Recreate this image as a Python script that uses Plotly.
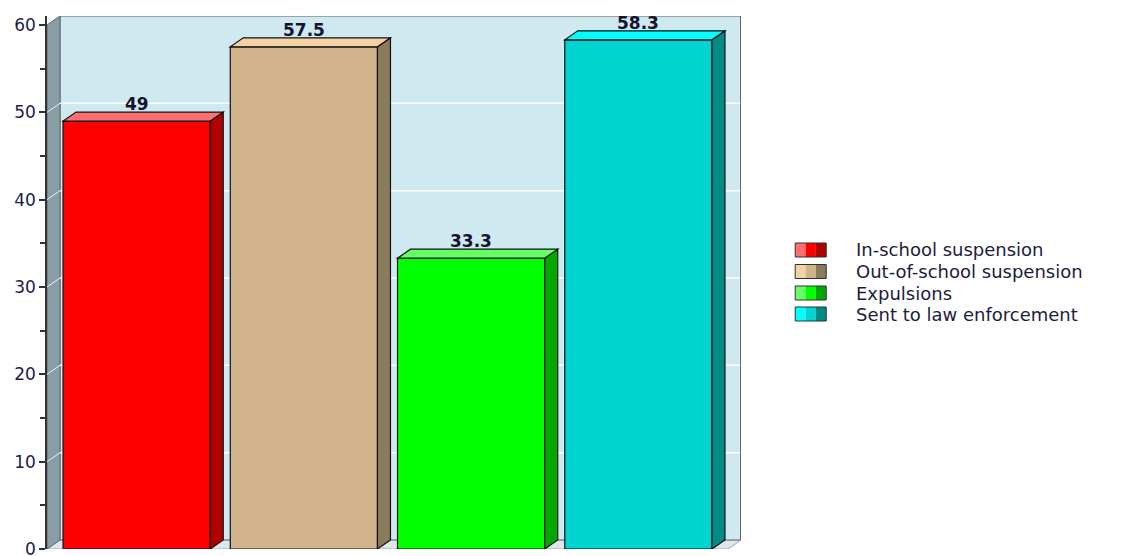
import plotly.graph_objects as go

categories = ["In-school suspension", "Out-of-school suspension", "Expulsions", "Sent to law enforcement"]
values = [49, 57.5, 33.3, 58.3]
value_labels = ["49", "57.5", "33.3", "58.3"]
y_ticks = [0, 10, 20, 30, 40, 50, 60]

front_colors = ["#ff0000", "#d2b48c", "#00ff00", "#00d4d0"]
side_colors = ["#b00000", "#8b7a5c", "#00a800", "#008b84"]
top_colors = ["#ff6f6f", "#f3d2a6", "#66ff66", "#00ffff"]

W, H = 1133, 556
# geometry (pixels)
px_per_x = 167.2
px_per_y = 8.733
depth_px_x, depth_px_y = 13, 9
pad_px = 6
dx = depth_px_x / px_per_x
dy = depth_px_y / px_per_y
bar_w = 0.88
xmin = -0.5 - pad_px / px_per_x
xmax_front = len(values) - 0.5 + pad_px / px_per_x
xmax = xmax_front + dx
ymax_front = 60
ymax = ymax_front + dy
left_px = 47
plot_w = (xmax - xmin) * px_per_x
margin_r = W - left_px - plot_w
margin_t = 16
margin_b = 7

fig = go.Figure()
xs = list(range(len(values)))
fig.add_trace(go.Bar(
    x=xs, y=values, width=bar_w,
    marker=dict(color=front_colors, line=dict(color="#101010", width=1.2)),
    showlegend=False, hoverinfo="skip",
))

shapes = []
# floor
shapes.append(dict(type="path", layer="below",
                   path=f"M{xmin},0 L{xmax_front},0 L{xmax},{dy} L{xmin+dx},{dy} Z",
                   fillcolor="#dde8ec", line=dict(color="#9aa7ad", width=1)))
# back wall
shapes.append(dict(type="rect", layer="below", x0=xmin + dx, x1=xmax, y0=dy, y1=ymax,
                   fillcolor="#cfe9f1", line=dict(color="#8c8c8c", width=1.5)))
# left wall
shapes.append(dict(type="path", layer="below",
                   path=f"M{xmin},0 L{xmin},{ymax_front} L{xmin+dx},{ymax} L{xmin+dx},{dy} Z",
                   fillcolor="#899da5", line=dict(color="#5c6a70", width=1)))
# grid lines
for t in y_ticks[1:-1]:
    shapes.append(dict(type="line", layer="below", x0=xmin + dx, x1=xmax, y0=t + dy, y1=t + dy,
                       line=dict(color="#ffffff", width=1.5)))
    shapes.append(dict(type="line", layer="below", x0=xmin, x1=xmin + dx, y0=t, y1=t + dy,
                       line=dict(color="#e8f2f5", width=1)))
# right wall edge
shapes.append(dict(type="line", layer="below", x0=xmax, x1=xmax, y0=dy, y1=ymax,
                   line=dict(color="#555555", width=1.5)))

# 3D faces of bars
for i, v in enumerate(values):
    xl = i - bar_w / 2
    xr = i + bar_w / 2
    shapes.append(dict(type="path", layer="above",
                       path=f"M{xr},0 L{xr},{v} L{xr+dx},{v+dy} L{xr+dx},{dy} Z",
                       fillcolor=side_colors[i], line=dict(color="#101010", width=1.2)))
    shapes.append(dict(type="path", layer="above",
                       path=f"M{xl},{v} L{xr},{v} L{xr+dx},{v+dy} L{xl+dx},{v+dy} Z",
                       fillcolor=top_colors[i], line=dict(color="#101010", width=1.2)))

annotations = []
for i, v in enumerate(values):
    annotations.append(dict(x=i, y=v + dy, xref="x", yref="y", text=value_labels[i],
                            showarrow=False, yanchor="bottom", xanchor="center", yshift=-4,
                            font=dict(family="DejaVu Sans", size=17, color="#141430", weight="bold")))

# legend (manual swatches)
def px_to_paper_x(px):
    return (px - left_px) / plot_w

def py_to_paper_y(py):
    return (H - margin_b - py) / (H - margin_t - margin_b)

leg_x0, leg_w, sw_h = 795, 31, 14
leg_y_centers = [250, 271.5, 293, 314]
for i, name in enumerate(categories):
    cy = leg_y_centers[i]
    stripe_cols = [top_colors[i], front_colors[i], side_colors[i]]
    for k in range(3):
        shapes.append(dict(type="rect", xref="paper", yref="paper",
                           x0=px_to_paper_x(leg_x0 + k * leg_w / 3), x1=px_to_paper_x(leg_x0 + (k + 1) * leg_w / 3),
                           y0=py_to_paper_y(cy + sw_h / 2), y1=py_to_paper_y(cy - sw_h / 2),
                           fillcolor=stripe_cols[k], line=dict(width=0)))
    shapes.append(dict(type="rect", xref="paper", yref="paper",
                       x0=px_to_paper_x(leg_x0), x1=px_to_paper_x(leg_x0 + leg_w),
                       y0=py_to_paper_y(cy + sw_h / 2), y1=py_to_paper_y(cy - sw_h / 2),
                       fillcolor="rgba(0,0,0,0)", line=dict(color="#303030", width=1)))
    annotations.append(dict(x=px_to_paper_x(854), y=py_to_paper_y(cy), xref="paper", yref="paper",
                            text=name, showarrow=False, xanchor="left", yanchor="middle",
                            font=dict(family="DejaVu Sans", size=18, color="#1c1c40")))

fig.update_layout(
    width=W, height=H,
    margin=dict(l=left_px, r=margin_r, t=margin_t, b=margin_b, autoexpand=False),
    paper_bgcolor="white", plot_bgcolor="white",
    shapes=shapes, annotations=annotations,
    showlegend=False,
    xaxis=dict(range=[xmin, xmax], showgrid=False, zeroline=False, showticklabels=False,
               ticks="", showline=False, fixedrange=True, automargin=False),
    yaxis=dict(range=[0, ymax], tickvals=y_ticks, ticktext=[str(t) for t in y_ticks],
               showgrid=False, zeroline=False, showline=True, linecolor="#333333", linewidth=1.5,
               ticks="outside", ticklen=6, tickcolor="#333333", tickwidth=1.5,
               ticklabeloverflow="allow", automargin=False,
               minor=dict(dtick=5, ticks="outside", ticklen=5, tickcolor="#333333", tickwidth=1.5),
               tickfont=dict(family="DejaVu Sans", size=17, color="#1c1c50"), fixedrange=True),
)

fig.write_html("out.html")
